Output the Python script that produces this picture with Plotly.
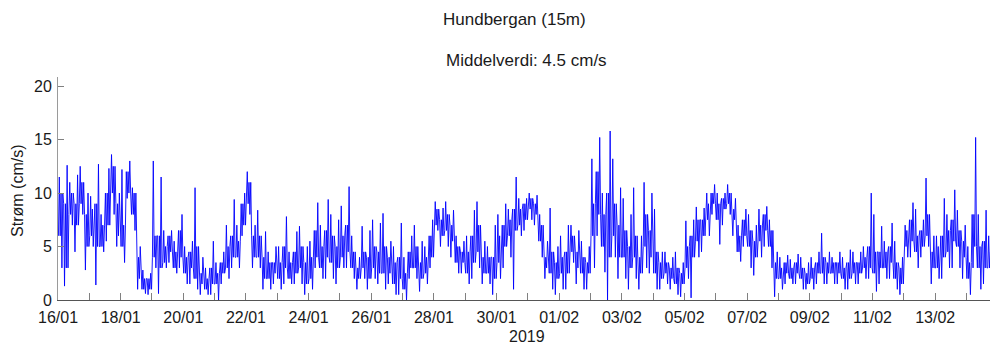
import plotly.graph_objects as go
import pandas as pd

# Current speed (cm/s) per 4-hour block:
# spike envelope (low/high) and the dense core band (core_low/core_high)
block_low = [
    3, 1.3, 7, 4.5, 8, 2.8,
    5, 1.4, 4.5, 5.5, 8, 5,
    3.5, 9.5, 6.5, 1, 0.6, 0.5,
    3, 0.6, 3, 3.5, 2.5, 3,
    1.5, 1.5, 1, 0.5, 0.5, 0.5,
    0, 1.5, 2, 3, 3, 6,
    8, 3, 3, 1, 1, 1.5,
    1, 1.5, 1.5, 1.5, 1.5, 0.5,
    1, 3, 2, 2, 2, 1.5,
    3, 3, 2, 1, 2, 1,
    2, 1.5, 1, 1.5, 0.5, 0.5,
    0, 2, 2, 0.8, 1.5, 3,
    6.5, 5, 5, 4, 2.5, 2.5,
    1.5, 2, 3, 1.5, 1.5, 0.5,
    2, 3, 4, 1, 6, 6.5,
    7.5, 7, 4, 2, 1, 0.5,
    1, 1, 3.5, 1.5, 1, 1,
    3, 6, 2.6, 0, 4, 2,
    2, 1, 2, 1, 3, 2.5,
    1, 1, 1.5, 1, 0.5, 0.3,
    2, 0.2, 4, 4.5, 6, 8,
    5.2, 7, 8, 6, 3.6, 5,
    3, 2.3, 4, 5, 3, 0.3,
    1, 1.5, 1.5, 1.5, 1, 1,
    1, 1.5, 1.5, 1.5, 1.5, 1.5,
    1, 1, 1.5, 1.5, 2, 2,
    0.8, 1.5, 2, 2, 1, 0.5,
    4, 4, 3, 4, 5, 1.5,
    2, 2, 3, 3, 3, 2,
    0.5, 3, 1, 1.5, 2,
]
block_high = [
    11.5, 12.6, 11, 11.7, 12.5, 10,
    9.7, 12.7, 8, 12.3, 13.6, 10,
    12.2, 13, 10.5, 5, 2.8, 2.5,
    13, 11.5, 6.5, 6.5, 5.5, 8,
    5, 5.5, 10.5, 4, 3, 5.5,
    3.5, 4.5, 7, 9.4, 7, 10,
    12, 7, 8.4, 6.4, 4.5, 5,
    5, 7.8, 4.5, 6.4, 6.9, 5,
    5.5, 9.1, 7, 9.4, 8, 7.5,
    8.8, 10.6, 6, 4, 6.9, 6.5,
    7.5, 7.2, 8.1, 5.5, 5, 7.2,
    4, 6, 7, 5.5, 5, 7.5,
    9.2, 8.6, 9.2, 8.4, 6, 5.5,
    6, 8.4, 9.2, 5.5, 5, 7,
    8, 9, 8.5, 11.5, 9.5, 9.5,
    10, 9.8, 8, 5.5, 8.6, 5,
    6, 7, 7, 6.5, 5.5, 5,
    13.2, 15.2, 10, 15.8, 13.2, 10.5,
    9.5, 8, 10.5, 6, 11, 10,
    8.5, 4.5, 4.5, 4, 4.5, 3.5,
    7.4, 7.5, 8.7, 8.6, 10, 10.8,
    10, 10, 10.8, 9.5, 7, 8.5,
    8, 7, 8.5, 8.75, 7.5, 4.5,
    4, 4.2, 3.8, 4.3, 4, 3.5,
    4, 4.5, 6.25, 4.5, 4, 4.5,
    4, 4.7, 4.5, 4.5, 5, 10,
    8, 6.9, 5.5, 7.2, 5.5, 4,
    7, 9.1, 8.5, 7.5, 11.4, 6,
    6, 9.5, 8, 10.3, 8.4, 7,
    5, 15.2, 8, 8.4, 6,
]
core_low = [
    6, 3, 8, 7, 9, 5,
    6, 5, 5, 7, 10, 6,
    5, 10, 8, 2, 1, 1,
    4, 3, 3.5, 4.5, 3, 4,
    2.5, 3, 2, 1.5, 1, 1.5,
    1.5, 2.5, 3, 4, 4, 7,
    9, 4, 4, 2, 2, 2.5,
    2, 3, 2, 2.5, 3, 1.5,
    2, 4, 3, 4, 3.5, 3,
    4, 4.5, 3, 2, 3, 2,
    3, 2.5, 2.5, 2.5, 1.5, 2,
    1, 3, 3, 2, 2.5, 4,
    7, 6, 6.5, 5.5, 3.5, 3.5,
    2.5, 3.5, 4.5, 2.5, 2.5, 2,
    3.5, 5, 6, 6.5, 7, 7.5,
    8.5, 8, 5.5, 3, 2.5, 2,
    2.5, 2.5, 4.5, 3, 2.5, 2.5,
    6, 8, 5, 4, 6, 4,
    4, 3, 4, 2.5, 5, 4,
    2.5, 2, 2.5, 2, 1.5, 1.5,
    3, 4, 5.5, 6, 7.5, 9,
    7.5, 8.5, 9, 7.5, 4.5, 6,
    5, 4, 5.5, 6.5, 5, 2,
    2, 2.5, 2, 2.5, 2, 1.5,
    2, 2.5, 2.5, 2.5, 2.5, 2.5,
    2, 2, 2.5, 2.5, 3, 3,
    2.5, 3, 3, 3.5, 2, 1.5,
    5, 5.5, 4.5, 5, 6, 3,
    3, 4, 4.5, 5.5, 5, 4,
    2, 5, 3, 3, 3,
]
core_high = [
    10, 9, 10, 9, 11, 8,
    8.5, 9, 7, 10, 12.5, 9,
    7, 12, 10, 4, 2, 2,
    6, 6, 5, 6, 4.5, 6.5,
    4, 4.5, 5, 2.5, 2, 3,
    2.5, 3.5, 5, 6, 5.5, 9,
    11, 6, 6, 4, 3.5, 3.5,
    3.5, 5, 3.5, 4.5, 5, 3.5,
    4, 6.5, 5, 6.5, 6, 5,
    6, 7, 4.5, 3, 4.5, 4,
    5, 4.5, 5, 4, 3.5, 4,
    2.5, 4.5, 5, 3.5, 4, 6,
    8.5, 7.5, 8, 7, 5, 4.5,
    4.5, 6, 7, 4, 4, 4,
    6, 7, 7.5, 8.5, 8.5, 9,
    9.5, 9, 7, 4, 4.5, 3.5,
    4, 4.5, 6, 4.5, 4, 3.5,
    9, 12, 8, 10, 9, 7,
    6.5, 5, 6, 4, 8, 6.5,
    4.5, 3.5, 3.5, 3, 3, 2.5,
    5, 6, 7.5, 7.5, 9, 10,
    9, 9.5, 10, 8.5, 6, 7.5,
    6.5, 5.5, 7, 8, 6.5, 3.5,
    3, 3.5, 3, 3.5, 3, 2.5,
    3, 3.5, 4, 3.5, 3.5, 3.5,
    3, 3.5, 3.5, 3.5, 4, 5,
    4.5, 4.5, 4.5, 5, 3.5, 3,
    6.5, 7.5, 6, 6.5, 8, 4.5,
    5, 6, 6.5, 7.5, 6.5, 5.5,
    3.5, 8, 5, 5.5, 4.5,
]

start = pd.Timestamp("2019-01-16 00:00")
times, speed = [], []
for k in range(len(block_low)):
    if k % 2 == 0:
        seq = [core_low[k], block_high[k], core_low[k],
               core_high[k], block_low[k], core_high[k]]
    else:
        seq = [core_high[k], block_low[k], core_high[k],
               core_low[k], block_high[k], core_low[k]]
    for j, v in enumerate(seq):
        times.append(start + pd.Timedelta(minutes=240 * k + 20 + 40 * j))
        speed.append(v)

title_text = "Hundbergan (15m)"
subtitle_text = "Middelverdi: 4.5 cm/s"
y_title = "Strøm (cm/s)"
x_title = "2019"

font_family = "Liberation Sans, Arial, sans-serif"

fig = go.Figure()
fig.add_trace(go.Scatter(
    x=times, y=speed, mode="lines",
    line=dict(color="rgb(0,0,255)", width=0.9),
    showlegend=False, hoverinfo="skip",
))

fig.update_layout(
    width=990, height=350,
    margin=dict(l=58, r=0, t=77, b=50),
    paper_bgcolor="white", plot_bgcolor="white",
    font=dict(family=font_family, size=16, color="#1a1a1a"),
    annotations=[
        dict(text=title_text, xref="paper", yref="paper", x=0.49, y=1.26,
             xanchor="center", yanchor="middle", showarrow=False,
             font=dict(size=17, family=font_family, color="#1a1a1a")),
        dict(text=subtitle_text, xref="paper", yref="paper", x=0.503, y=1.076,
             xanchor="center", yanchor="middle", showarrow=False,
             font=dict(size=17, family=font_family, color="#1a1a1a")),
        dict(text=x_title, xref="paper", yref="paper", x=0.503, y=-0.163,
             xanchor="center", yanchor="middle", showarrow=False,
             font=dict(size=16, family=font_family, color="#1a1a1a")),
        dict(text=y_title, xref="paper", yref="paper", x=-0.043, y=0.489,
             xanchor="center", yanchor="middle", showarrow=False, textangle=-90,
             font=dict(size=16, family=font_family, color="#1a1a1a")),
    ],
)

fig.update_xaxes(
    type="date",
    range=["2019-01-16 00:00", "2019-02-14 18:00"],
    tick0="2019-01-16", dtick=2 * 86400000, tickformat="%d/%m",
    ticks="inside", ticklen=7, tickcolor="#808080", tickwidth=1,
    minor=dict(dtick=86400000, tick0="2019-01-16", ticks="inside",
               ticklen=7, tickcolor="#808080", tickwidth=1, showgrid=False),
    showline=True, linecolor="#555555", linewidth=1,
    showgrid=False, zeroline=False,
    ticklabelstandoff=3,
    tickfont=dict(size=16, color="#1a1a1a"),
)
fig.update_yaxes(
    range=[0, 20.85],
    tickvals=[0, 5, 10, 15, 20],
    ticks="inside", ticklen=6, tickcolor="#808080", tickwidth=1,
    showline=True, linecolor="#9a9a9a", linewidth=1,
    showgrid=False, zeroline=False,
    ticklabelstandoff=2,
    tickfont=dict(size=16, color="#1a1a1a"),
)

fig.write_html("out.html")
